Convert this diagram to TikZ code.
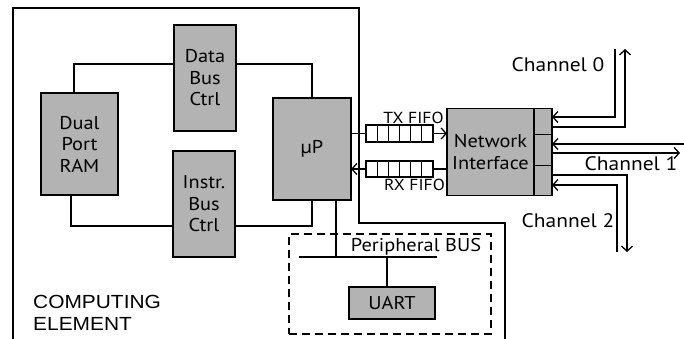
\documentclass[tikz,border=0pt]{standalone}
\usepackage{fontspec}
\setmainfont{PT Sans}[FakeStretch=1.1]
\newfontfamily\arialish{Liberation Sans}[FakeStretch=1.1]
\usetikzlibrary{arrows.meta,positioning,calc}
\definecolor{blockgray}{HTML}{B3B3B3}

\begin{document}
\begin{tikzpicture}[x=1pt, y=-1pt,
  font=\fontsize{18.5}{21.5}\selectfont,
  block/.style={draw, line width=1.4pt, fill=blockgray, align=center, inner sep=1pt, outer sep=0pt},
  port/.style={draw, line width=1.4pt, fill=blockgray, minimum width=18pt, inner sep=0pt, outer sep=0pt},
  fifo/.style={draw, line width=1.2pt, fill=white, minimum width=67pt, inner sep=0pt, outer sep=0pt},
  wire/.style={line width=1.3pt},
  arr/.style={wire, -{Straight Barb[length=5pt, width=11pt]}},
  lbl/.style={font=\fontsize{16}{18}\selectfont, inner sep=0.5pt},
  chan/.style={font=\fontsize{19.5}{22}\selectfont},
]
\useasboundingbox (0,0) rectangle (684,338);

% computing element outline
\draw[line width=1.4pt] (13,340) -- (13,8) -- (359,8) -- (359,223) -- (505,223) -- (505,340);
\node[anchor=north west, align=left, inner sep=0pt, font=\arialish\fontsize{19}{22}\selectfont] (ce) at (33,295) {COMPUTING\\ELEMENT};

% blocks
\node[block, minimum width=77pt, minimum height=102pt] (ram) at (79.5,144) {Dual\\Port\\RAM};
\node[block, minimum width=62pt, minimum height=106pt] (dbc) at (205,78) {Data\\Bus\\Ctrl};
\node[block, minimum width=62pt, minimum height=106pt] (ibc) at (204,204) {Instr.\\Bus\\Ctrl};
\node[block, minimum width=78pt, minimum height=102pt] (up) at (312,149) {µP};
\node[block, minimum width=87pt, minimum height=87pt] (ni) at (490.5,152) {Network\\Interface};
\node[port, minimum height=26pt, anchor=north west] (p0) at (ni.north east) {};
\node[port, minimum height=31pt, below=0pt of p0] (p1) {};
\node[port, minimum height=30pt, below=0pt of p1] (p2) {};

% fifos
\node[fifo, minimum height=17pt] (txf) at (399.5,133.5) {};
\node[fifo, minimum height=16pt] (rxf) at (399.5,169) {};
\foreach \f in {txf,rxf}
  \foreach \i in {1,...,5}
    \draw[wire] ($(\f.north west)!\i/6!(\f.north east)$) -- ($(\f.south west)!\i/6!(\f.south east)$);
\node[lbl, above=1pt of txf, xshift=14pt] (txl) {TX FIFO};
\node[lbl, below=1pt of rxf, xshift=15pt] (rxl) {RX FIFO};

% internal buses
\draw[wire] ([xshift=-5.5pt]ram.north) |- ([yshift=14pt]dbc.west);
\draw[wire] ([yshift=14pt]dbc.east) -| (up.north);
\draw[wire] ([xshift=-8.5pt]ram.south) |- ([yshift=-22pt]ibc.west);
\draw[wire] ([yshift=-22pt]ibc.east) -| (up.south);
\draw[wire] (up.east |- txf.west) -- (txf.west);
\draw[arr] (txf.east) -- (ni.west |- txf.east);
\draw[wire] (ni.west |- rxf.east) -- (rxf.east);
\draw[arr] (rxf.west) -- (up.east |- rxf.west);

% peripheral bus
\node[draw, dashed, dash pattern=on 8pt off 5pt, line width=1.2pt, minimum width=202pt, minimum height=100pt] (pbox) at (390,284) {};
\coordinate (busl) at (299,257);
\coordinate (busr) at (437,257);
\draw[wire] (busl) -- (busr);
\node[anchor=south, inner sep=1pt] (pbus) at (416,256) {Peripheral BUS};
\node[block, minimum width=86pt, minimum height=32pt] (uart) at (392,303) {UART};
\draw[wire] ([xshift=24pt]up.south) -- ([xshift=24pt]up.south |- busl);
\draw[wire] ([xshift=-5pt]uart.north) -- ([xshift=-5pt]uart.north |- busl);

% channels
\coordinate (c0in) at (615,49);
\coordinate (c0out) at (625,49);
\coordinate (c1in) at (684,144);
\coordinate (c1out) at (680,153);
\coordinate (c2in) at (617,252);
\coordinate (c2out) at (627,252);
\draw[arr] (c0in) |- ([yshift=4.5pt]p0.east);
\draw[arr] ([yshift=-5.5pt]p0.east) -| (c0out);
\draw[arr] (c1in) -- (p1.east |- c1in);
\draw[arr] (p1.east |- c1out) -- (c1out);
\draw[arr] ([yshift=5.5pt]p2.east) -| (c2out);
\draw[arr] (c2in) |- ([yshift=-4.5pt]p2.east);
\node[chan] (ch0) at (558,65) {Channel 0};
\node[chan] (ch1) at (631,164) {Channel 1};
\node[chan] (ch2) at (568,221) {Channel 2};
\end{tikzpicture}
\end{document}
